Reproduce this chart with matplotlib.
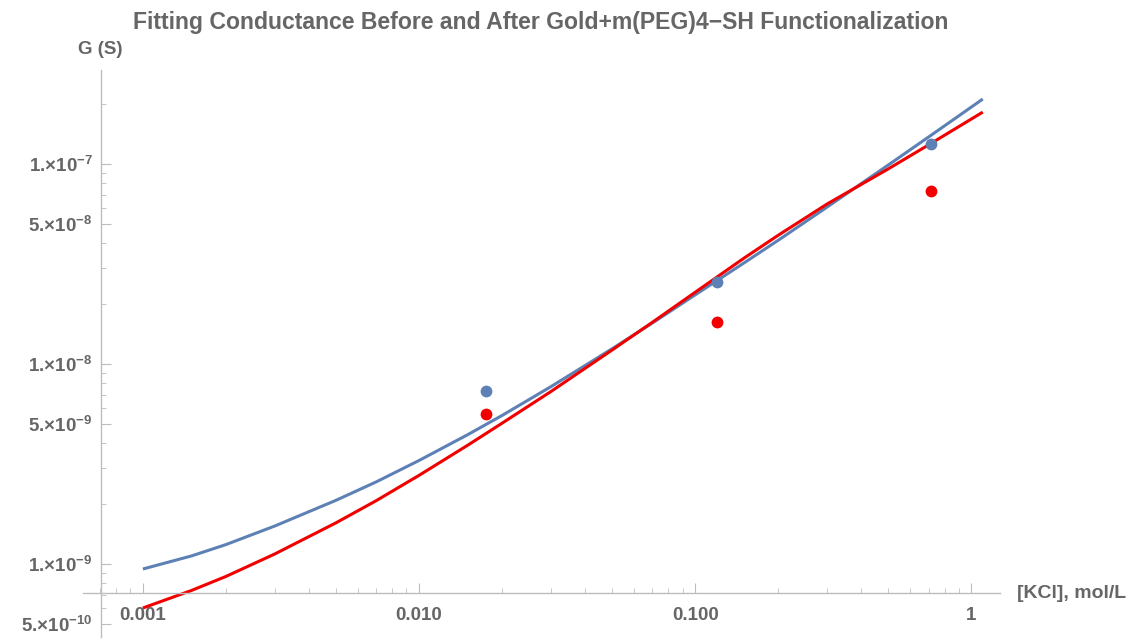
import matplotlib
matplotlib.use("Agg")
import matplotlib.pyplot as plt
from matplotlib.ticker import FixedLocator, LogLocator, NullFormatter, FixedFormatter

plt.rcParams['font.family'] = ['Liberation Sans', 'DejaVu Sans']
plt.rcParams['mathtext.fontset'] = 'custom'
plt.rcParams['mathtext.rm'] = 'Liberation Sans:bold'
plt.rcParams['mathtext.default'] = 'regular'

# measured points: KCl concentration (mol/L) vs conductance (S)
conc = [0.0175, 0.12, 0.716]
g_before = [7.33e-9, 2.58e-8, 1.26e-7]
g_after = [5.62e-9, 1.62e-8, 7.35e-8]

# fitted curves
fit_x = [0.001, 0.0015, 0.002, 0.003, 0.005, 0.007, 0.01, 0.015, 0.02, 0.03,
         0.05, 0.07, 0.1, 0.15, 0.2, 0.3, 0.5, 0.7, 1.0, 1.1]
fit_before = [9.41e-10, 1.094e-9, 1.247e-9, 1.543e-9, 2.075e-9, 2.567e-9, 3.284e-9,
              4.42e-9, 5.52e-9, 7.68e-9, 1.189e-8, 1.600e-8, 2.213e-8, 3.192e-8,
              4.154e-8, 6.075e-8, 9.87e-8, 1.363e-7, 1.925e-7, 2.111e-7]
fit_after = [6.005e-10, 7.35e-10, 8.64e-10, 1.118e-9, 1.601e-9, 2.068e-9, 2.767e-9,
             3.914e-9, 5.05e-9, 7.26e-9, 1.172e-8, 1.614e-8, 2.28e-8, 3.373e-8,
             4.40e-8, 6.295e-8, 9.44e-8, 1.245e-7, 1.677e-7, 1.816e-7]

x_ticks = [0.001, 0.01, 0.1, 1]
x_labels = ["0.001", "0.010", "0.100", "1"]
y_ticks = [5e-10, 1e-9, 5e-9, 1e-8, 5e-8, 1e-7]
y_labels = [r"5.$\times$10$^{-10}$", r"1.$\times$10$^{-9}$", r"5.$\times$10$^{-9}$",
            r"1.$\times$10$^{-8}$", r"5.$\times$10$^{-8}$", r"1.$\times$10$^{-7}$"]

BLUE = "#5E81B5"
RED = "#F20000"
GRAY = "#666666"
AXIS = "#BDBDBD"

fig = plt.figure(figsize=(11.31, 6.39), dpi=100)
ax = fig.add_axes([83 / 1131, 2 / 639, 917 / 1131, 567 / 639])

ax.plot(fit_x, fit_before, color=BLUE, lw=2.2, solid_capstyle='butt', solid_joinstyle='round')
ax.plot(fit_x, fit_after, color=RED, lw=2.2, solid_capstyle='butt', solid_joinstyle='round')
ax.plot(conc, g_before, 'o', color=BLUE, ms=8.5, mec='none')
ax.plot(conc, g_after, 'o', color=RED, ms=8.5, mec='none')

ax.set_xscale('log')
ax.set_yscale('log')
ax.set_xlim(6.07e-4, 1.27)
ax.set_ylim(4.3e-10, 2.95e-7)

for s in ['top', 'right']:
    ax.spines[s].set_visible(False)
ax.spines['left'].set_position(('data', 7.05e-4))
ax.spines['bottom'].set_position(('data', 7.16e-10))
for s in ['left', 'bottom']:
    ax.spines[s].set_color(AXIS)
    ax.spines[s].set_linewidth(1.0)

ax.xaxis.set_major_locator(FixedLocator(x_ticks))
ax.xaxis.set_major_formatter(FixedFormatter(x_labels))
ax.xaxis.set_minor_locator(LogLocator(base=10, subs=range(2, 10), numticks=20))
ax.xaxis.set_minor_formatter(NullFormatter())
ax.yaxis.set_major_locator(FixedLocator(y_ticks))
ax.yaxis.set_major_formatter(FixedFormatter(y_labels))
ax.yaxis.set_minor_locator(LogLocator(base=10, subs=range(1, 10), numticks=20))
ax.yaxis.set_minor_formatter(NullFormatter())

ax.tick_params(which='major', direction='in', length=7, width=0.8, color=AXIS,
               labelcolor=GRAY, labelsize=13.5)
ax.tick_params(which='minor', direction='in', length=3.5, width=0.6, color=AXIS)
ax.tick_params(axis='x', pad=10)
ax.tick_params(axis='y', pad=6)
for lab in ax.get_xticklabels() + ax.get_yticklabels():
    lab.set_fontweight('bold')

fig.text(541 / 1131, 1 - 22 / 639,
         "Fitting Conductance Before and After Gold+m(PEG)4\u2212SH Functionalization",
         ha='center', va='center', fontsize=16.6, fontweight='bold', color=GRAY)
fig.text(100 / 1131, 1 - 50 / 639, "G (S)", ha='center', va='center',
         fontsize=13.5, fontweight='bold', color=GRAY)
fig.text(1017 / 1131, 1 - 594 / 639, "[KCl], mol/L", ha='left', va='center',
         fontsize=14, fontweight='bold', color=GRAY)

fig.savefig("out.png", dpi=100)
